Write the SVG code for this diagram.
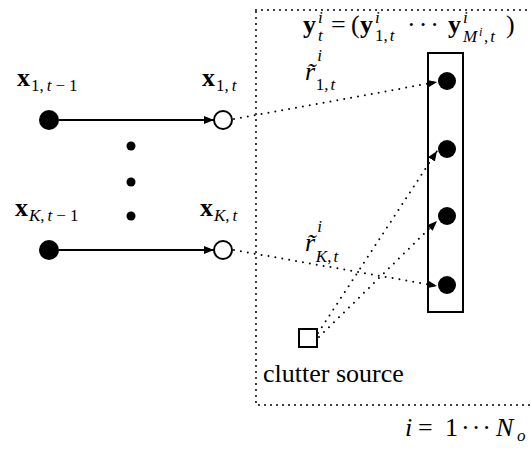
<svg xmlns="http://www.w3.org/2000/svg" width="531" height="452" viewBox="0 0 531 452">
<style>
text{font-family:"Liberation Serif","DejaVu Serif",serif;fill:#000}
.m{font-size:26px}
.b{font-weight:bold}
.i{font-style:italic}
.n{font-style:normal}
.s{font-size:17px}
.ss{font-size:12px}
.dot{stroke:#000;stroke-width:2;stroke-linecap:round;stroke-dasharray:0 7;fill:none}
.box{stroke:#000;stroke-width:2;stroke-linecap:round;stroke-dasharray:0 6;fill:none}
.solid{stroke:#000;stroke-width:2;fill:none}
.open{stroke:#000;stroke-width:2;fill:#fff}
</style>
<defs>
<marker id="ah" markerUnits="userSpaceOnUse" markerWidth="11" markerHeight="9" refX="10" refY="4" orient="auto">
<path d="M0,0 L10,4 L0,8 z" fill="#000"/>
</marker>
</defs>

<g id="plate">
<rect class="box" x="256" y="10" width="290" height="395"/>
<text class="m i" x="405" y="436">i</text>
<text class="m" x="418" y="436">=</text>
<text class="m" x="445" y="436">1</text>
<text class="m" x="461" y="436" letter-spacing="2">···</text>
<text class="m i" x="496" y="436" font-size="28">N</text>
<text class="s i" x="517" y="441">o</text>
</g>

<g id="connectors">
<line class="solid" x1="59" y1="120" x2="214" y2="120" marker-end="url(#ah)"/>
<line class="solid" x1="59" y1="250" x2="214" y2="250" marker-end="url(#ah)"/>
<line class="dot" x1="234" y1="119" x2="437" y2="82" marker-end="url(#ah)"/>
<line class="dot" x1="234" y1="250" x2="437" y2="286" marker-end="url(#ah)"/>
<line class="dot" x1="318" y1="333" x2="437" y2="151" marker-end="url(#ah)"/>
<line class="dot" x1="319" y1="337" x2="437" y2="221" marker-end="url(#ah)"/>
</g>

<g id="r1label">
<text class="m i" x="305" y="80">r&#x303;<tspan class="s" dx="2" dy="-19">i</tspan><tspan class="s n" dx="-6" dy="29">1,</tspan><tspan class="s" dx="2">t</tspan></text>
</g>
<g id="rKlabel">
<text class="m i" x="305" y="251">r&#x303;<tspan class="s" dx="2" dy="-19">i</tspan><tspan class="s" dx="-6" dy="30">K</tspan><tspan class="s n">,</tspan><tspan class="s" dx="2">t</tspan></text>
</g>

<g id="x1prev">
<circle cx="49" cy="120" r="10"/>
<text class="m" x="17" y="86"><tspan class="b">x</tspan><tspan class="s" dx="1" dy="5">1,</tspan><tspan class="s i" dx="3">t</tspan><tspan class="s" dx="4">−</tspan><tspan class="s" dx="4">1</tspan></text>
</g>
<g id="x1">
<circle class="open" cx="223" cy="120" r="9"/>
<text class="m" x="202" y="86"><tspan class="b">x</tspan><tspan class="s" dx="1" dy="5">1,</tspan><tspan class="s i" dx="3">t</tspan></text>
</g>
<g id="ellipsis">
<circle cx="131" cy="146" r="4.5"/>
<circle cx="131" cy="182" r="4.5"/>
<circle cx="131" cy="216" r="4.5"/>
</g>
<g id="xKprev">
<circle cx="49" cy="250" r="10"/>
<text class="m" x="15" y="216"><tspan class="b">x</tspan><tspan class="s i" dx="1" dy="5">K</tspan><tspan class="s">,</tspan><tspan class="s i" dx="3">t</tspan><tspan class="s" dx="4">−</tspan><tspan class="s" dx="4">1</tspan></text>
</g>
<g id="xK">
<circle class="open" cx="223" cy="250" r="9"/>
<text class="m" x="200" y="216"><tspan class="b">x</tspan><tspan class="s i" dx="1" dy="5">K</tspan><tspan class="s">,</tspan><tspan class="s i" dx="3">t</tspan></text>
</g>

<g id="measurements">
<rect x="428" y="53" width="35" height="259" fill="none" stroke="#000" stroke-width="2"/>
<circle cx="447" cy="81" r="9"/>
<circle cx="447" cy="149" r="9"/>
<circle cx="447" cy="216" r="9"/>
<circle cx="447" cy="285" r="9"/>
</g>
<g id="ylabel">
<text class="m b" x="303" y="33">y</text>
<text class="s i" x="318" y="23">i</text>
<text class="s i" x="318" y="41">t</text>
<text class="m" x="331" y="33">=</text>
<text class="m" x="351" y="33">(</text>
<text class="m b" x="360" y="33">y</text>
<text class="s i" x="375" y="23">i</text>
<text class="s" x="375" y="41">1,<tspan class="i" dx="2">t</tspan></text>
<text class="m" x="407" y="33" letter-spacing="3">···</text>
<text class="m b" x="448" y="33">y</text>
<text class="s i" x="463" y="23">i</text>
<text class="s i" x="463" y="42">M</text>
<text class="ss i" x="479" y="36">i</text>
<text class="s" x="484" y="42">,<tspan class="i" dx="2">t</tspan></text>
<text class="m" x="506" y="33">)</text>
</g>

<g id="clutter">
<rect x="299" y="329" width="18" height="18" fill="#fff" stroke="#000" stroke-width="2"/>
<text class="m" x="263" y="382">clutter source</text>
</g>
</svg>
